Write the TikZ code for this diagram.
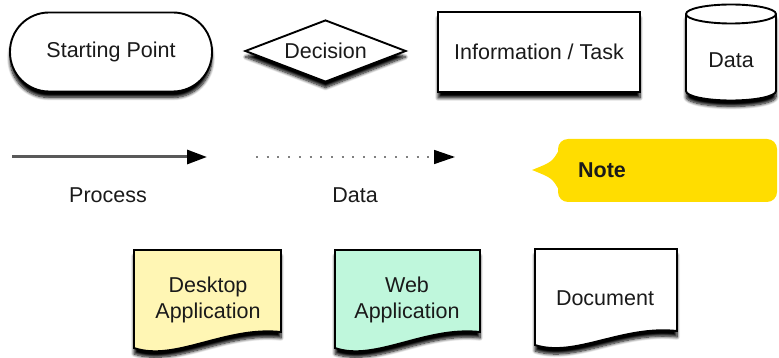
\documentclass[tikz,border=0pt]{standalone}
\usepackage{fontspec}
\setmainfont{Liberation Sans}
\usetikzlibrary{shapes.geometric,arrows.meta,shadows.blur}
\definecolor{noteyellow}{HTML}{FFDD00}
\definecolor{deskfill}{HTML}{FFF6B4}
\definecolor{webfill}{HTML}{BFF7DC}
\definecolor{txt}{HTML}{1A1A1A}
\begin{document}
\begin{tikzpicture}[x=1pt,y=-1pt,
  shd/.style={blur shadow={shadow xshift=0pt,shadow yshift=-6pt,shadow blur radius=3pt,shadow blur steps=8,shadow opacity=100}},
  outl/.style={draw=black,line width=1.9pt},
  box/.style={outl,fill=white,shd,font=\fontsize{21.5}{26}\selectfont,text=txt},
  lbl/.style={font=\fontsize{21.5}{26}\selectfont,text=txt,inner sep=0pt,align=center},
  docshape/.style={outl,shd}
]
\useasboundingbox (0,0) rectangle (779,358);

% top row
\node[box,rectangle,rounded corners=39pt,minimum width=202pt,minimum height=79pt] (start) at (111,52) {Starting Point};
\node[box,diamond,aspect=2.6,inner sep=0pt,minimum width=161pt,minimum height=62pt] (decision) at (325.5,51) {Decision};
\node[box,rectangle,minimum width=202pt,minimum height=80pt] (info) at (539,52) {Information / Task};

% cylinder
\path[outl,fill=white,shd] (686,14) -- (686,91)
  arc[start angle=180,end angle=360,x radius=45pt,y radius=9.5pt]
  -- (776,14)
  arc[start angle=0,end angle=180,x radius=45pt,y radius=9.5pt] -- cycle;
\draw[outl] (686,14) arc[start angle=180,end angle=360,x radius=45pt,y radius=9.5pt];
\node[lbl] (datastore) at (731,60) {Data};

% arrows
\coordinate (p1) at (12,157);
\coordinate (p2) at (207,157);
\draw[line width=3pt,black!65,-{Triangle[length=20pt,width=14pt,black]}] (p1) -- (p2);
\node[lbl] (proclbl) at (108,195) {Process};

\coordinate (d1) at (256,157);
\coordinate (d2) at (455,157);
\draw[line width=1.6pt,black!50,dash pattern=on 2pt off 8.7pt,-{Triangle[length=21pt,width=14pt,black]}] (d1) -- (d2);
\node[lbl] (datalbl) at (355,195) {Data};

% note
\path[fill=noteyellow,rounded corners=10pt] (558,170) -- (558,139) -- (777,139) -- (777,202) -- (558,202) -- cycle;
\path[fill=noteyellow] (559,150) .. controls (552,162) .. (532,170) .. controls (552,178) .. (559,190) -- cycle;
\node[lbl,font=\bfseries\fontsize{21.5}{26}\selectfont] (note) at (602,170) {Note};

% documents
\path[docshape,fill=deskfill] (134,250) -- (281,250) -- (281,332)
  .. controls (225,326) and (175,362) .. (134,348) -- cycle;
\node[lbl] (desk) at (208,300) {Desktop\\Application};

\path[docshape,fill=webfill] (335,250) -- (480,250) -- (480,332)
  .. controls (425,326) and (375,362) .. (335,348) -- cycle;
\node[lbl] (web) at (407,300) {Web\\Application};

\path[docshape,fill=white] (535,249) -- (677,249) -- (677,331)
  .. controls (622,325) and (575,358) .. (535,345) -- cycle;
\node[lbl] (doc) at (605,298) {Document};
\end{tikzpicture}
\end{document}
